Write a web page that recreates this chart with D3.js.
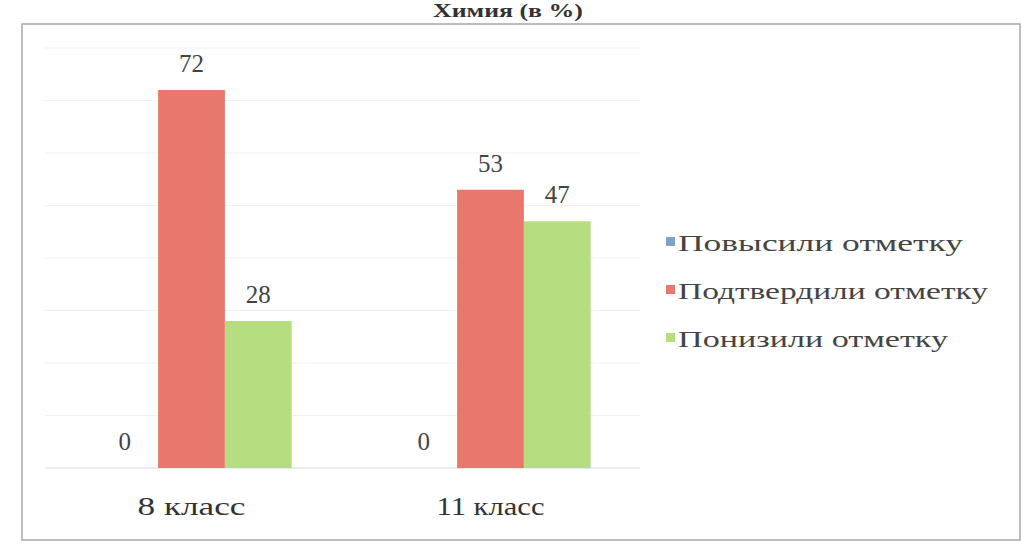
<!DOCTYPE html>
<html><head><meta charset="utf-8">
<script src="https://cdn.jsdelivr.net/npm/d3@7"></script>
<style>body{margin:0;background:#fff}svg{display:block}</style>
</head><body><svg id="c" width="1025" height="553" font-family="'Liberation Serif', 'Times New Roman', 'DejaVu Serif', serif"></svg>
<script>
const title = "Химия (в %)";
const categories = ["8 класс", "11 класс"];
const seriesNames = ["Повысили отметку", "Подтвердили отметку", "Понизили отметку"];
const seriesColors = ["#7f9fd0", "#e8786d", "#b5de80"];
const povysili = [0, 0];
const podtverdili = [72, 53];
const ponizili = [28, 47];
const gridTicks = [0, 10, 20, 30, 40, 50, 60, 70, 80];

const seriesValues = [povysili, podtverdili, ponizili];
const svg = d3.select("#c");

// frame
svg.append("rect").attr("x", 22).attr("y", 24).attr("width", 998).attr("height", 516)
  .attr("fill", "none").attr("stroke", "#a8a8a8").attr("stroke-width", 1.5);

// title
svg.append("text").attr("x", 508).attr("y", 17).attr("text-anchor", "middle")
  .attr("font-size", 19).attr("font-weight", "bold").attr("fill", "#333")
  .attr("textLength", 150).attr("lengthAdjust", "spacingAndGlyphs").text(title);

const y = d3.scaleLinear().domain([0, 80]).range([468, 48]);
const x0 = d3.scaleBand().domain(categories).range([42, 640]).paddingInner(0.33).paddingOuter(0.165);
const x1 = d3.scaleBand().domain(seriesNames).range([0, x0.bandwidth()]).padding(0);

// gridlines
svg.append("g").selectAll("line").data(gridTicks).join("line")
  .attr("x1", 45).attr("x2", 640).attr("y1", d => y(d)).attr("y2", d => y(d))
  .attr("stroke", d => d === 0 ? "#d9d9d9" : "#f0f0f0").attr("stroke-width", 1.2);

const groups = svg.append("g").selectAll("g").data(categories).join("g")
  .attr("transform", d => `translate(${x0(d)},0)`);

const cells = (c, ci) => seriesNames.map((s, si) => ({s, si, v: seriesValues[si][ci]}));

groups.selectAll("rect").data(cells).join("rect")
  .attr("x", d => x1(d.s)).attr("width", x1.bandwidth())
  .attr("y", d => y(d.v)).attr("height", d => y(0) - y(d.v))
  .attr("fill", d => seriesColors[d.si]);

groups.selectAll("text.v").data(cells).join("text").attr("class", "v")
  .attr("x", d => x1(d.s) + x1.bandwidth() / 2)
  .attr("y", d => y(d.v) - 18)
  .attr("text-anchor", "middle").attr("font-size", 25).attr("fill", "#444")
  .text(d => d.v);

// category labels
svg.append("g").selectAll("text").data(categories).join("text")
  .attr("x", d => x0(d) + x0.bandwidth() / 2).attr("y", 515)
  .attr("text-anchor", "middle").attr("font-size", 25).attr("fill", "#333")
  .attr("textLength", 108).attr("lengthAdjust", "spacingAndGlyphs")
  .text(d => d);

// legend
const leg = svg.append("g").selectAll("g").data(seriesNames).join("g")
  .attr("transform", (d, i) => `translate(666,${243 + i * 48})`);
leg.append("rect").attr("x", 0).attr("y", -6).attr("width", 9).attr("height", 9)
  .attr("fill", (d, i) => seriesColors[i]);
leg.append("text").attr("x", 12).attr("y", 8).attr("font-size", 24).attr("fill", "#444")
  .attr("textLength", (d, i) => [285, 310, 270][i]).attr("lengthAdjust", "spacingAndGlyphs")
  .text(d => d);
</script></body></html>
